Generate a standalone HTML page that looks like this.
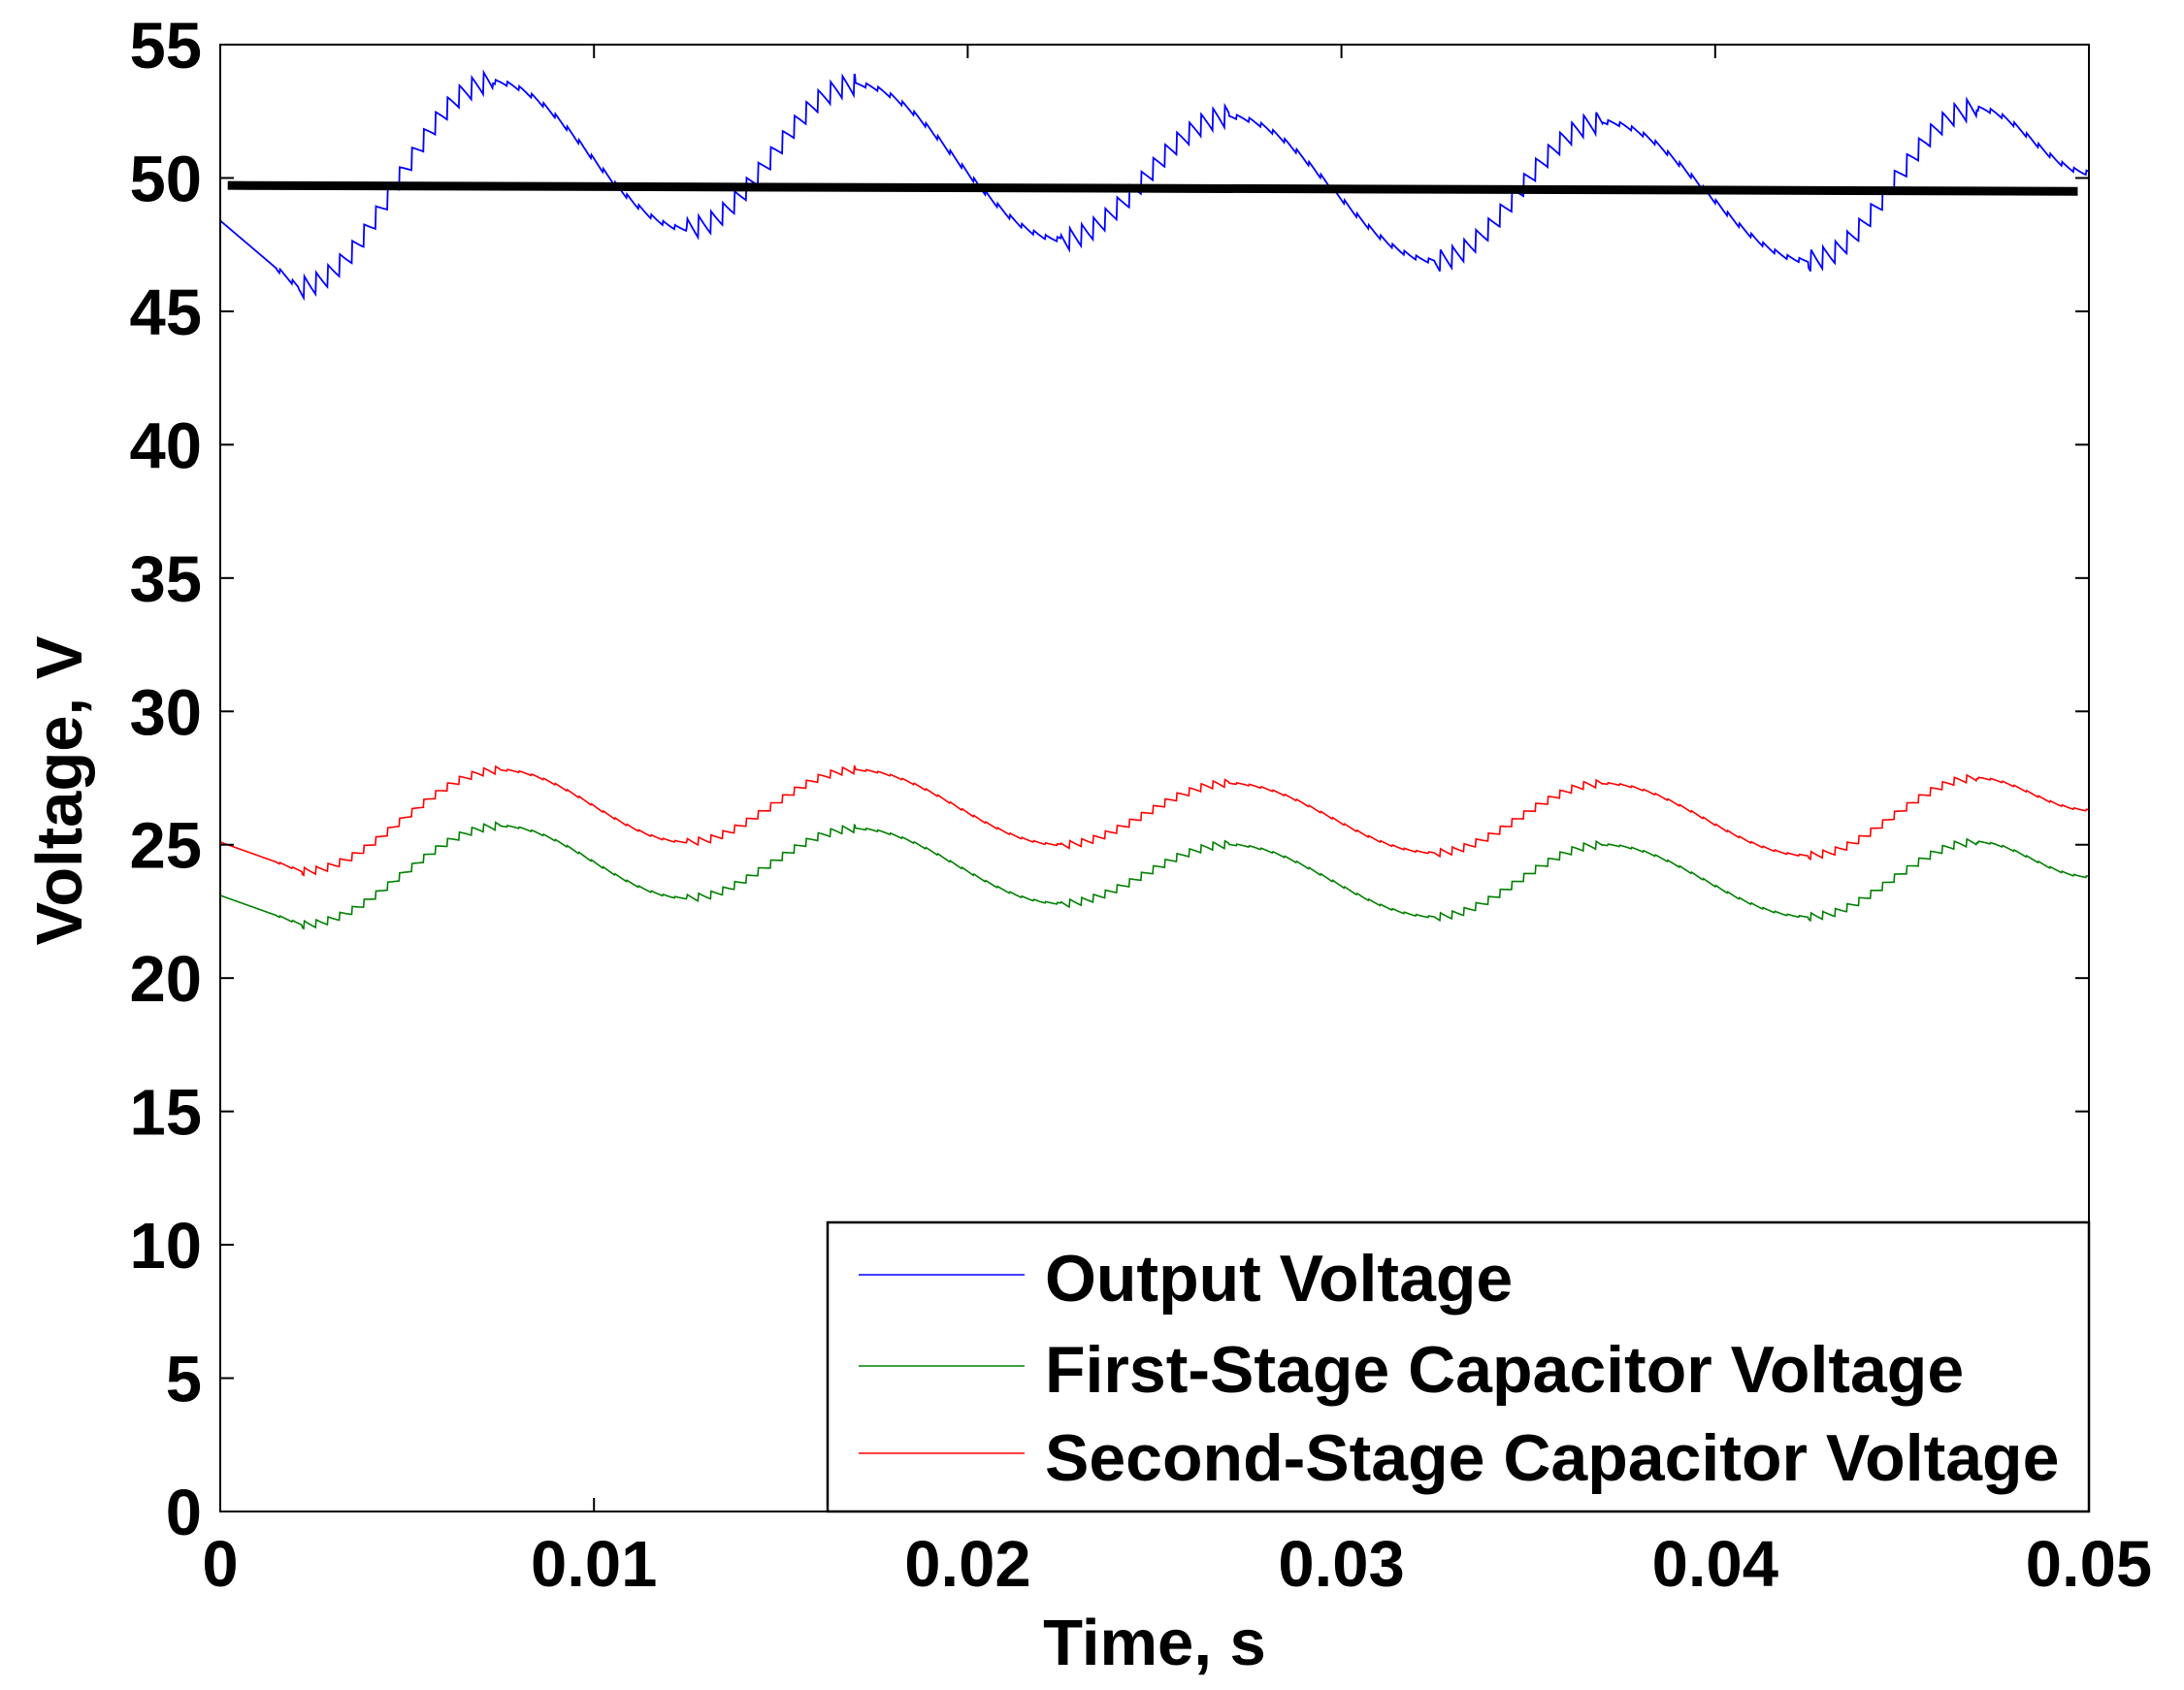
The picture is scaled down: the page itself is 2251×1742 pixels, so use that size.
<!DOCTYPE html>
<html><head><meta charset="utf-8"><style>
html,body{margin:0;padding:0;background:#fff;}
svg{display:block;}
text{font-family:"Liberation Sans",Arial,sans-serif;font-weight:bold;fill:#000;}
</style></head><body>
<svg id="s" width="2251" height="1742" viewBox="0 0 2251 1742" xmlns="http://www.w3.org/2000/svg">
<rect width="2251" height="1742" fill="#fff"/>
<g id="plot"></g>
<g id="axes"></g>
<text x="1190" y="1716" font-size="67" text-anchor="middle">Time, s</text>
<text transform="translate(84,815) rotate(-90)" font-size="67" text-anchor="middle">Voltage, V</text>
<rect x="853" y="1260" width="1300" height="298" fill="#fff" stroke="#000" stroke-width="2.5"/>
<line x1="885" y1="1314" x2="1056" y2="1314" stroke="#0000ff" stroke-width="1.5"/>
<line x1="885" y1="1408" x2="1056" y2="1408" stroke="#008000" stroke-width="1.5"/>
<line x1="885" y1="1498" x2="1056" y2="1498" stroke="#ff0000" stroke-width="1.5"/>
<text x="1077" y="1341" font-size="68">Output Voltage</text>
<text x="1077" y="1435" font-size="68">First-Stage Capacitor Voltage</text>
<text x="1077" y="1526" font-size="68">Second-Stage Capacitor Voltage</text>
</svg>
<script>
var L=227,R=2153,T=46,B=1558;
function X(t){return L+(R-L)*t/0.05;}
function Y(v){return B-(B-T)*v/55;}
var NS="http://www.w3.org/2000/svg";
function el(p,n,a){var e=document.createElementNS(NS,n);for(var k in a)e.setAttribute(k,a[k]);p.appendChild(e);return e;}
var plot=document.getElementById('plot'),axes=document.getElementById('axes');
function interp(pts,t){for(var i=0;i<pts.length-1;i++){var a=pts[i],b=pts[i+1];if(t>=a[0]&&t<=b[0]){var f=(t-a[0])/(b[0]-a[0]);var s=(1-Math.cos(Math.PI*f))/2;if(i==0)s=f;return a[1]+(b[1]-a[1])*s;}}return pts[pts.length-1][1];}
function series(pts,amp,color,w){
  var d="",N=3000;
  for(var i=0;i<=N;i++){var t=0.05*i/N;var v=interp(pts,t);
    var dv=interp(pts,Math.min(t+1e-5,0.05))-v;
    var ph=(t/0.00032)%1;
    if(dv>0&&t>0.0015) v+=amp*(0.5-ph);
    else if(t>0.0015) v+=amp*0.2*(0.5-ph);
    d+=(i?"L":"M")+X(t).toFixed(1)+" "+Y(v).toFixed(1);}
  el(plot,'path',{d:d,fill:'none',stroke:color,'stroke-width':w});
}
var blue=[[0,48.4],[0.0021,45.9],[0.0073,53.6],[0.0125,48.1],[0.017,53.5],[0.0225,47.7],[0.027,52.3],[0.0325,46.9],[0.037,52.1],[0.0425,46.9],[0.047,52.6],[0.05,50.2]];
var red=[[0,25.1],[0.0022,24.0],[0.0075,27.8],[0.0125,25.1],[0.017,27.8],[0.0225,25.0],[0.027,27.3],[0.0325,24.7],[0.037,27.3],[0.0425,24.6],[0.047,27.5],[0.05,26.3]];
var green=[[0,23.1],[0.0022,22.0],[0.0075,25.7],[0.0125,23.0],[0.017,25.6],[0.0225,22.8],[0.027,25.0],[0.0325,22.3],[0.037,25.0],[0.0425,22.3],[0.047,25.1],[0.05,23.8]];
series(green,0.3,'#008000',1.6);
series(red,0.3,'#ff0000',1.6);
series(blue,0.85,'#0000ff',1.8);
el(plot,'line',{x1:X(0.0002),y1:Y(49.72),x2:X(0.0497),y2:Y(49.5),stroke:'#000','stroke-width':9});
el(axes,'rect',{x:L,y:T,width:R-L,height:B-T,fill:'none',stroke:'#000','stroke-width':2});
for(var v=0;v<=55;v+=5){var y=Y(v);
  el(axes,'line',{x1:L,y1:y,x2:L+14,y2:y,stroke:'#000','stroke-width':2});
  el(axes,'line',{x1:R,y1:y,x2:R-14,y2:y,stroke:'#000','stroke-width':2});
  var tx=el(axes,'text',{x:208,y:y+24,'font-size':67,'text-anchor':'end'});tx.textContent=v;}
var lab=["0","0.01","0.02","0.03","0.04","0.05"];
for(var i=0;i<=5;i++){var x=X(i*0.01);
  el(axes,'line',{x1:x,y1:B,x2:x,y2:B-14,stroke:'#000','stroke-width':2});
  el(axes,'line',{x1:x,y1:T,x2:x,y2:T+14,stroke:'#000','stroke-width':2});
  var tx=el(axes,'text',{x:x,y:1635,'font-size':67,'text-anchor':'middle'});tx.textContent=lab[i];}
</script>
</body></html>
